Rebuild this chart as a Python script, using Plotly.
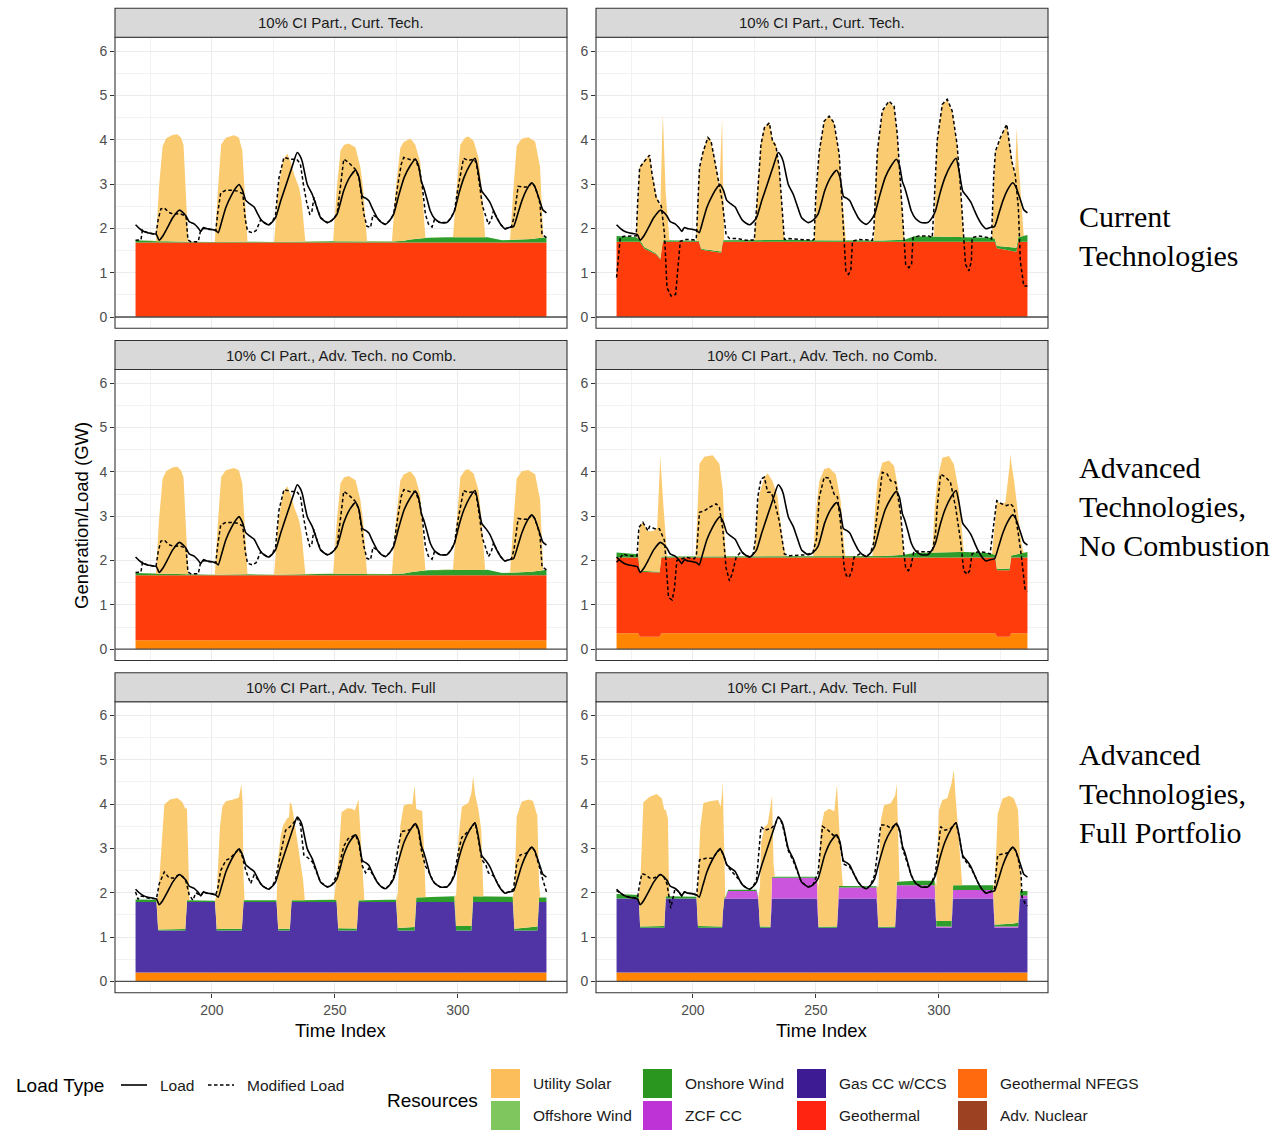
import plotly.graph_objects as go

W, H = 1284, 1132

# ---------------- text ----------------
strip_titles = ["10% CI Part., Curt. Tech.", "10% CI Part., Curt. Tech.",
                "10% CI Part., Adv. Tech. no Comb.", "10% CI Part., Adv. Tech. no Comb.",
                "10% CI Part., Adv. Tech. Full", "10% CI Part., Adv. Tech. Full"]
row_labels = ["Current<br>Technologies",
              "Advanced<br>Technologies,<br>No Combustion",
              "Advanced<br>Technologies,<br>Full Portfolio"]
resource_names = ["Utility Solar", "Offshore Wind", "Onshore Wind", "ZCF CC",
                  "Gas CC w/CCS", "Geothermal", "Geothermal NFEGS", "Adv. Nuclear"]
legend_colors = ["#FBBE5A", "#7FC65F", "#2A961F", "#BE33D6",
                 "#3D1C93", "#FF2411", "#FF6A0E", "#9C4222"]
area_colors = {"Utility Solar": "#FBCB72", "Onshore Wind": "#2D9E2B", "ZCF CC": "#CC55DD",
               "Gas CC w/CCS": "#5034A6", "Geothermal": "#FF3C0B", "Geothermal NFEGS": "#FF8503"}

# ---------------- data (hour, GW) ----------------
load_pts = [(169,2.08),(170.5,2.00),(172,1.94),(174,1.90),(176,1.88),(177.5,1.86),(178.6,1.73),(180,1.82),(182,2.02),(184.1,2.24),(186.8,2.41),(188.2,2.36),(189.5,2.28),(190.8,2.15),(192.8,2.10),(194.3,2.02),(195.5,1.93),(196.6,2.02),(198,1.99),(199.6,1.98),(201.6,1.95),(202.6,1.90),(204,2.15),(205.7,2.47),(208,2.75),(210,2.93),(211.1,2.99),(212.5,2.85),(213.8,2.63),(215.5,2.55),(217.2,2.48),(218.7,2.32),(219.9,2.20),(221.5,2.12),(223.2,2.08),(224.5,2.14),(225.9,2.24),(228,2.62),(230.7,3.07),(232.8,3.42),(234.7,3.71),(236,3.62),(236.8,3.50),(238.8,2.99),(240.8,2.77),(242.5,2.50),(244.2,2.24),(246.9,2.13),(248.8,2.18),(250.9,2.32),(253.6,2.85),(256,3.15),(258.4,3.31),(259.8,3.15),(261.2,2.72),(262.5,2.68),(263.8,2.62),(265.5,2.42),(267.2,2.24),(268.8,2.14),(270.5,2.09),(272.2,2.17),(273.9,2.32),(276,2.75),(278.2,3.15),(280.5,3.40),(282.7,3.56),(284,3.42),(285.2,3.05),(286.1,2.92),(287.5,2.65),(288.8,2.39),(290.5,2.22),(292.8,2.13),(295.5,2.13),(297,2.22),(298.6,2.39),(300.5,2.80),(302.5,3.15),(304.8,3.42),(307,3.58),(308.2,3.30),(309.7,2.84),(311.4,2.72),(313.1,2.58),(314.5,2.40),(315.8,2.24),(317.5,2.08),(319.2,1.99),(320.8,2.02),(322.6,2.04),(324.2,2.30),(326,2.62),(328,2.88),(330,3.03),(331.2,2.95),(332.3,2.78),(333.4,2.60),(334.5,2.42),(336,2.35)]

# --- left column, current technologies (left column no-combustion shares solar/wind/modified load)
geo_curr_a = [(169,1.68),(336,1.68)]
wind_curr_a = [(169,0.05),(175,0.03),(182,0.03),(190,0.02),(200,0.01),(212,0.02),(225,0.01),(240,0.03),(250,0.03),(262,0.02),(272,0.02),(278,0.04),(282,0.08),(288,0.11),(295,0.12),(305,0.11),(312,0.12),(318,0.05),(325,0.06),(330,0.08),(336,0.12)]
solar_curr_a = [(177.3,0),(178.5,1.2),(180,2.15),(181.5,2.32),(184,2.4),(186,2.42),(187.5,2.34),(188.5,2.18),(190.4,0),
                (201.2,0),(202.5,1.2),(203.8,2.2),(205.7,2.35),(209,2.4),(211,2.35),(212.4,2.05),(214.5,0),
                (225.3,0),(227,1.2),(229,1.86),(230.7,1.99),(232,1.81),(233.5,1.51),(235.5,1.21),(236.5,0.9),(238,0),
                (249.3,0),(250.8,1.2),(252.3,2.05),(253.8,2.18),(255.7,2.21),(258.4,2.12),(260.4,1.67),(261.5,1.2),(263.1,0),
                (273.2,0),(274.8,1.2),(276.6,2.1),(278,2.23),(280.7,2.28),(282.7,2.12),(284.7,1.72),(285.7,1.0),(286.8,0),
                (298,0),(299.5,1.1),(301,2.1),(303,2.26),(304.3,2.28),(306.4,2.18),(308.4,1.8),(309.8,1.0),(311.1,0),
                (321.2,0),(322.5,1.1),(323.9,2.12),(325.9,2.28),(328.6,2.3),(331.4,2.19),(333.4,1.6),(334.7,0)]
mod_curr_a = [(169,1.73),(171.2,1.74),(171.8,1.96),(173.9,1.90),(177.3,1.86),(178.2,2.20),(179.3,2.44),(180.7,2.46),(182.5,2.36),(184.5,2.32),(187,2.33),(189.5,2.28),(190.3,1.74),(191.5,1.70),(194.5,1.70),(195.3,1.92),(196.6,2.00),(198,1.99),(199.6,1.98),(201.6,1.95),(202.4,2.35),(203.6,2.80),(205.7,2.86),(208,2.86),(210.5,2.84),(212.6,2.78),(213.6,2.20),(214.5,1.94),(216.5,1.90),(218,1.95),(219.9,2.20),(221.5,2.12),(223.2,2.08),(224.5,2.14),(225.9,2.30),(227.3,3.14),(229.3,3.60),(232,3.56),(234.5,3.56),(236,3.45),(237.2,3.00),(238.5,2.60),(239.8,2.32),(240.6,2.35),(241.5,2.70),(242.5,2.50),(244.2,2.24),(246.9,2.13),(248.8,2.18),(250.9,2.32),(252.3,2.95),(253.6,3.56),(255.7,3.48),(258.4,3.33),(259.8,3.15),(261,2.65),(261.8,2.32),(263,2.05),(264.5,2.02),(265.5,2.30),(267.2,2.24),(268.8,2.14),(270.5,2.09),(272.2,2.17),(273.9,2.32),(275.5,2.95),(277,3.45),(278,3.60),(280.7,3.55),(282.7,3.56),(284.5,3.30),(285.6,2.92),(286.8,2.32),(288,2.10),(289.5,2.03),(290.5,2.20),(292.8,2.13),(295.5,2.13),(297,2.22),(298.6,2.39),(300,2.90),(302.3,3.58),(304.3,3.53),(306.4,3.56),(307.5,3.48),(309,2.90),(310,2.50),(311.1,2.32),(312.4,2.09),(313.5,2.18),(314.5,2.40),(315.8,2.24),(317.5,2.08),(319.2,1.99),(320.8,2.02),(321.8,2.04),(322.8,2.25),(324.5,2.95),(327,2.93),(328.6,2.93),(330,3.03),(331.2,2.95),(332.5,2.75),(333.4,2.55),(334.2,1.86),(336,1.79)]

# --- right column, current technologies
geo_curr_b = [(169,1.70),(178.4,1.70),(180.4,1.54),(183.1,1.47),(185.1,1.41),(186.8,1.30),(187.6,1.70),(202.5,1.70),(203.4,1.52),(210.8,1.45),(211.5,1.45),(212.2,1.70),(322.7,1.70),(323.6,1.55),(329.6,1.50),(331.5,1.47),(332.3,1.70),(336,1.70)]
wind_curr_b = [(169,0.13),(177,0.10),(178.4,0.04),(187,0.02),(188,0.03),(200,0.02),(213,0.03),(225,0.03),(238,0.04),(250,0.03),(262,0.03),(273,0.02),(286,0.04),(290,0.12),(298,0.12),(311,0.10),(321,0.10),(323.6,0.05),(330,0.08),(332.3,0.10),(336,0.15)]
solar_curr_b = [(177,0),(178.4,1.65),(180.4,1.96),(182.4,2.15),(183.5,1.73),(185.1,1.32),(186.8,1.18),(187.6,2.58),(187.8,2.85),(189,1.05),(190.5,0),
                (201.4,0),(202.7,1.69),(204.1,2.18),(206.1,2.54),(207.4,2.47),(209.5,1.89),(210.8,1.45),(211.5,2.43),(211.9,2.89),(212.4,0.78),(212.8,0),
                (225,0),(226.4,1.2),(227.7,2.17),(229.1,2.55),(231.1,2.66),(232.4,2.25),(233.8,2.17),(235.1,1.65),(236.5,0.52),(237.2,0),
                (249.3,0),(250.3,1.1),(251.4,2.02),(253.4,2.7),(255.4,2.81),(257.4,2.66),(259.5,1.95),(260.8,0.9),(262.2,0),
                (273.6,0),(274.3,1.2),(275,1.99),(277,2.9),(279.7,3.12),(281.8,3.01),(283.1,2.37),(284.5,1.17),(285.8,0),
                (298,0),(298.7,1.2),(299.3,2.15),(301.4,2.98),(303.4,3.09),(305.4,2.83),(307.4,2.07),(308.8,1.1),(310.1,0),
                (321.6,0),(323,2.06),(325,2.43),(327.6,2.75),(329.6,1.94),(331,1.66),(331.6,2.67),(332.3,1.75),(333.5,0.75),(334.5,0)]
mod_curr_b = [(169,0.89),(170.5,1.79),(172,1.82),(177,1.83),(177.6,2.6),(178.4,3.37),(180.4,3.52),(182.4,3.65),(183.5,3.2),(185.1,2.69),(187.2,2.5),(188.5,1.86),(189.5,0.66),(191.2,0.47),(193,0.51),(193.9,1.11),(194.9,1.71),(197.3,1.75),(200.7,1.74),(201.4,1.76),(202.7,3.37),(204.1,3.71),(206.1,4.05),(207.4,3.97),(209.5,3.37),(210.8,2.92),(212.0,2.6),(213.5,1.86),(214.9,1.77),(218,1.77),(221.6,1.73),(225,1.74),(226.4,2.92),(227.7,3.89),(229.1,4.27),(231.1,4.38),(232.4,3.97),(233.8,3.85),(235.1,3.37),(236.5,2.3),(237.2,1.75),(239.2,1.77),(244.6,1.75),(248.6,1.73),(249.3,1.75),(250,2.77),(251.4,3.74),(253.4,4.42),(255.4,4.53),(257.4,4.38),(259.5,3.67),(260.8,2.47),(261.5,1.71),(262.2,1.04),(263.2,0.96),(264.2,1.04),(264.9,1.71),(267.6,1.75),(273,1.73),(273.6,2.0),(275,3.74),(277,4.65),(279.7,4.87),(281.8,4.76),(283.1,4.12),(284.5,2.92),(285.8,1.71),(286.5,1.19),(287.8,1.11),(288.9,1.19),(289.5,1.79),(291.9,1.83),(295.9,1.83),(297.3,1.79),(298,2.47),(299.3,3.97),(301.4,4.8),(303.4,4.91),(305.4,4.65),(307.4,3.89),(308.8,2.92),(310.1,1.71),(310.8,1.19),(312.2,1.04),(313.2,1.26),(313.5,1.79),(316.2,1.83),(320.1,1.79),(321.4,1.76),(322.3,3.2),(323,3.74),(325,4.05),(327.6,4.35),(329.6,3.52),(331,3.22),(332.3,2.47),(333.1,1.26),(334.5,0.7),(336,0.7)]

# --- left column, advanced technologies, no combustion
nfegs_nc_a = [(169,0.20),(336,0.20)]
geo_nc_a = [(169,1.47),(336,1.47)]

# --- right column, advanced technologies, no combustion
nfegs_nc_b = [(169,0.36),(177.8,0.36),(178.5,0.28),(186.5,0.28),(187.2,0.36),(322.9,0.36),(323.6,0.28),(328.7,0.28),(329.4,0.36),(336,0.36)]
geo_nc_b = [(169,1.71),(177.8,1.71),(178.5,1.47),(186.5,1.45),(187.2,1.71),(322.9,1.71),(323.6,1.50),(328.7,1.50),(329.4,1.71),(336,1.71)]
wind_nc_b = [(169,0.11),(177.8,0.07),(178.5,0.02),(187,0.02),(200,0.02),(226,0.03),(250,0.02),(262,0.03),(275,0.03),(285,0.05),(290,0.10),(300,0.12),(311,0.12),(320,0.10),(322.9,0.06),(323.6,0.03),(329,0.04),(336,0.12)]
solar_nc_b = [(177.8,0),(178.5,1.03),(179.7,1.09),(181.8,0.9),(184,0.91),(185.5,0.99),(186.5,2.35),(186.8,2.47),(187.2,1.81),(188.1,1.11),(189.5,0.06),(189.8,0),
              (201.1,0),(202,1.2),(202.7,2.09),(204.7,2.25),(208.1,2.28),(210.8,2.09),(212.2,1.49),(213.1,0.3),(213.5,0),
              (225,0),(226,0.9),(227,1.4),(229.1,1.78),(230.4,1.87),(232.4,1.7),(234.5,1.33),(236.5,0.35),(237.8,0),
              (248.9,0),(250,1.0),(251.4,1.7),(253.4,1.97),(255.4,2.0),(258.1,1.85),(260.1,1.25),(261.5,0.2),(261.9,0),
              (273,0),(274,1.0),(275,1.68),(277,2.1),(279.7,2.15),(281.8,2.02),(283.8,1.38),(285.5,0.2),(285.8,0),
              (297.3,0),(298.3,1.0),(299.3,1.6),(301.4,2.13),(304.1,2.17),(306.1,1.98),(308.1,1.38),(309.8,0.2),(310.1,0),
              (321.6,0),(322.9,0.9),(323.6,1.54),(325,1.47),(327,1.49),(328.7,2.29),(329.1,2.42),(329.4,2.1),(330.5,1.7),(332,1.0),(333.5,0.25),(334.5,0)]
mod_nc_b = [(169,1.96),(170,2.02),(171.6,2.15),(173,2.12),(175,2.10),(177.3,2.10),(178.1,2.75),(179.7,2.86),(181.8,2.67),(182.4,2.77),(184.4,2.72),(186.4,2.72),(188.5,2.45),(189.2,1.77),(190.1,1.17),(191.6,1.11),(192.5,1.35),(193.5,2.0),(195.3,2.04),(197.3,2.07),(200.7,2.04),(201.5,2.15),(202.7,3.09),(204.7,3.12),(206.7,3.2),(209.5,3.28),(210.8,3.2),(212.2,2.7),(213.5,1.84),(214.9,1.54),(216,1.70),(217.6,2.07),(219.6,2.2),(221.5,2.12),(223.2,2.08),(224.5,2.14),(225.5,2.5),(226.4,3.43),(227.7,3.84),(229.1,3.88),(230.4,3.54),(231.8,3.54),(233.1,3.35),(235.1,2.9),(237.2,2.15),(239.2,2.11),(243,2.12),(246,2.13),(248.8,2.18),(250.3,2.5),(251.4,3.43),(253.4,3.88),(255.4,3.86),(257.4,3.5),(258.8,3.43),(260.1,2.82),(261.5,1.84),(262.4,1.66),(263.5,1.62),(264.6,1.77),(265.5,2.07),(268.2,2.16),(270.5,2.09),(272.2,2.17),(273.5,2.4),(275.7,3.43),(277,3.99),(279,3.95),(280.4,3.8),(282.4,3.77),(284.5,3.05),(285.8,2.15),(286.5,1.84),(287.6,1.77),(288.5,1.84),(289.9,2.22),(293,2.2),(297.3,2.2),(298.6,2.6),(299.3,3.2),(300.7,3.95),(302.7,3.88),(304.7,3.77),(306.8,3.2),(308.8,2.45),(310.1,1.77),(311.5,1.69),(312.5,1.77),(313.5,2.15),(316,2.2),(319.2,2.18),(320.8,2.15),(321.8,2.6),(323.5,3.35),(325.5,3.28),(327.5,3.24),(329.1,3.28),(330.5,3.2),(332.3,2.6),(333.6,2.07),(335,1.36),(336,1.3)]

# --- left column, advanced technologies, full portfolio
nfegs_full_a = [(169,0.20),(336,0.20)]
gas_full_a = [(169,1.59),(177.5,1.59),(178.2,0.95),(189.2,0.95),(189.9,1.59),(201.3,1.59),(202.0,0.95),(212.2,0.95),(212.9,1.59),(226.3,1.59),(227.0,0.95),(231.7,0.95),(232.4,1.59),(250.7,1.59),(251.4,0.95),(258.9,0.95),(259.6,1.59),(274.9,1.59),(275.6,0.95),(282.4,0.95),(283.1,1.59),(298.6,1.59),(299.3,0.95),(305.5,0.95),(306.2,1.59),(322.3,1.59),(323.0,0.95),(332.3,0.95),(333.0,1.59),(336,1.59)]
wind_full_a = [(169,0.06),(177.5,0.05),(178.2,0.02),(186,0.03),(189.2,0.03),(190,0.04),(201,0.03),(212.9,0.04),(225,0.04),(240,0.04),(250,0.05),(262,0.04),(272,0.05),(282,0.06),(283.1,0.10),(298.6,0.13),(299.3,0.10),(305.5,0.10),(306.2,0.13),(322.3,0.12),(323,0.04),(330,0.07),(332.3,0.09),(333,0.10),(336,0.10)]
solar_full_a = [(177.5,0),(178.2,0.75),(179.5,1.95),(180.7,2.82),(183,2.93),(186,2.96),(188,2.87),(189.2,2.72),(189.9,2.07),(190.4,1.0),(190.9,0),
                (201.3,0),(202.0,0.8),(203.3,2.3),(204.3,2.77),(205.7,2.88),(209,2.92),(211,2.96),(212.0,3.26),(212.5,2.6),(212.9,0.5),(213.3,0),
                (226.3,0),(227.0,1.6),(228,2.1),(229,2.33),(230.5,2.48),(231.4,2.52),(231.7,2.85),(232.4,2.17),(233.1,1.95),(235.1,1.2),(237.1,0.45),(237.8,0),
                (249.6,0),(250.7,0.5),(251.4,1.5),(252.7,2.62),(255,2.71),(257,2.70),(258.1,2.66),(258.9,2.8),(259.6,2.27),(260.1,1.8),(261.4,0.45),(262.0,0),
                (274.9,0),(275.6,0.8),(276.6,2.3),(278,2.76),(280,2.8),(281.5,2.78),(282.4,3.2),(283.1,2.0),(285.5,1.95),(286.3,1.0),(286.9,0),
                (298.6,0),(299.3,0.7),(300.3,2.0),(301.6,2.69),(304.3,2.78),(305.5,3.0),(306.2,2.7),(307,2.3),(308.4,1.95),(309.5,1.5),(310.4,0),
                (322.3,0),(323.0,0.9),(323.9,2.52),(325.9,2.85),(328.6,2.89),(330.5,2.85),(332.0,2.55),(332.3,2.5),(333.0,0.3),(333.5,0)]
mod_full_a = [(169,2.02),(170,1.85),(171,1.92),(172,1.92),(174,1.88),(176,1.87),(177.5,1.86),(178.6,2.2),(180.7,2.47),(182.7,2.33),(184.5,2.33),(186.8,2.41),(188.2,2.36),(189.5,2.26),(190.8,1.95),(192.3,1.83),(193.5,2.0),(195.5,1.93),(196.6,2.02),(198,1.99),(199.6,1.98),(201.6,1.95),(202.4,2.1),(203.6,2.5),(205.7,2.73),(207.5,2.78),(210,2.93),(211.1,2.99),(212.5,2.8),(213.8,2.5),(215.8,2.21),(217.2,2.4),(218.7,2.3),(219.9,2.20),(221.5,2.12),(223.2,2.08),(224.5,2.14),(225.9,2.3),(228,2.9),(230,3.41),(232,3.5),(234.7,3.68),(236,3.55),(237.4,2.85),(238.8,2.8),(240.8,2.7),(242.5,2.48),(244.2,2.24),(246.9,2.13),(248.8,2.18),(250.9,2.40),(253.6,3.05),(255.4,3.22),(258.4,3.31),(259.8,3.1),(261.2,2.6),(262.5,2.45),(263.8,2.55),(265.5,2.40),(267.2,2.24),(268.8,2.14),(270.5,2.09),(272.2,2.17),(273.9,2.35),(275.5,2.95),(277,3.38),(280.5,3.42),(282.7,3.56),(284,3.4),(285.2,2.95),(286.8,2.6),(288,2.5),(288.8,2.39),(290.5,2.22),(292.8,2.13),(295.5,2.13),(297,2.22),(298.6,2.42),(300.3,2.95),(301.6,3.25),(304.8,3.42),(307,3.58),(308.2,3.25),(309.7,2.75),(311.4,2.62),(312.4,2.45),(314.5,2.38),(315.8,2.24),(317.5,2.08),(319.2,1.99),(320.8,2.02),(322.6,2.08),(323.9,2.65),(325.3,2.85),(328,2.9),(330,3.03),(331.2,2.95),(332.3,2.75),(333.4,2.55),(334.5,2.3),(336,2.02)]

# --- right column, advanced technologies, full portfolio
nfegs_full_b = [(169,0.20),(336,0.20)]
gas_full_b = [(169,1.67),(178.0,1.67),(178.6,1.01),(188.4,1.01),(189.0,1.67),(201.5,1.67),(202.1,1.01),(211.9,1.01),(212.5,1.67),(226.6,1.67),(227.3,1.01),(231.5,1.01),(232.2,1.67),(250.4,1.67),(251.1,1.01),(258.6,1.01),(259.3,1.67),(274.7,1.67),(275.4,1.01),(282.2,1.01),(282.9,1.67),(298.3,1.67),(299.0,1.01),(305.1,1.01),(305.8,1.67),(322.0,1.67),(322.7,1.01),(332.2,1.01),(332.9,1.67),(336,1.67)]
zcf_full_b = [(169,0),(213.2,0),(214.4,0.17),(225.9,0.17),(226.6,0),(231.5,0),(232.2,0.47),(250.4,0.47),(251.1,0),(258.6,0),(259.3,0.25),(274.7,0.25),(275.4,0),(282.2,0),(282.9,0.30),(298.3,0.30),(299.0,0.03),(305.1,0.03),(305.8,0.19),(322.0,0.19),(322.7,0.03),(332.2,0.03),(332.9,0.07),(336,0.07)]
wind_full_b = [(169,0.10),(178.0,0.08),(178.6,0.03),(188.4,0.04),(189.0,0.05),(200,0.04),(213,0.03),(226,0.03),(233,0.02),(250,0.02),(259,0.03),(274,0.03),(275.4,0.02),(282.2,0.03),(282.9,0.08),(290,0.10),(298.3,0.10),(299,0.12),(305.1,0.12),(305.8,0.11),(322,0.11),(322.7,0.04),(330,0.06),(332.2,0.09),(332.9,0.10),(336,0.10)]
solar_full_b = [(178.0,0),(178.6,0.9),(179.9,2.8),(182.5,2.92),(185.4,2.98),(187.4,2.88),(188.1,2.65),(188.4,2.62),(189.0,1.95),(189.9,1.75),(190.3,0.3),(190.6,0),
                (201.5,0),(202.1,0.9),(203,2.2),(204.3,2.78),(207,2.82),(210.3,2.85),(211.3,2.7),(211.9,3.0),(212.2,2.95),(212.5,1.7),(212.8,1.0),(213.2,0),
                (226.6,0),(227.3,0.9),(227.7,1.87),(229.1,2.25),(230.4,2.32),(231.5,2.69),(232.2,1.84),(232.8,0.3),(233.3,0),
                (250.4,0),(251.1,0.9),(252,2.2),(253.4,2.59),(255.4,2.66),(257.5,2.6),(258.6,3.2),(259.3,1.5),(260.3,0.5),(261,0),
                (274.7,0),(275.4,0.9),(276.4,2.4),(277.7,2.74),(280.4,2.78),(282.2,2.95),(282.9,2.2),(283.5,1.0),(284,0),
                (298.3,0),(299.0,0.8),(300,2.5),(301.4,2.73),(303.4,2.77),(305.1,3.1),(305.8,2.5),(306.1,2.6),(306.8,2.0),(307.8,1.2),(309,0.3),(309.5,0),
                (322.0,0),(322.7,0.9),(323.9,2.5),(325.9,2.84),(328.6,2.89),(330.5,2.82),(332.2,2.54),(332.9,0.8),(333.5,0)]
mod_full_b = [(169,2.05),(170.5,2.0),(172,1.94),(174,1.9),(176,1.88),(177.5,1.88),(178.4,2.2),(179.3,2.43),(181,2.4),(182.4,2.33),(184.1,2.33),(186.8,2.41),(188.2,2.36),(189.5,2.2),(190.2,1.95),(191,1.65),(191.8,1.85),(192.8,2.1),(194.3,2.02),(195.5,1.93),(196.6,2.02),(198,1.99),(199.6,1.98),(201.6,1.95),(202.7,2.74),(205.4,2.78),(208,2.78),(210,2.93),(211.1,2.99),(212.5,2.85),(213.8,2.63),(215.5,2.5),(217.2,2.4),(218.7,2.3),(219.9,2.2),(221.5,2.12),(223.2,2.08),(224.5,2.14),(225.9,2.3),(227.7,3.49),(229.1,3.41),(231.8,3.45),(233.5,3.55),(234.7,3.71),(236,3.6),(236.8,3.45),(238.8,2.95),(240.8,2.72),(242.5,2.48),(244.2,2.24),(246.9,2.13),(248.8,2.18),(250.9,2.45),(252.7,3.5),(255,3.41),(257,3.3),(258.4,3.31),(259.8,3.1),(261.2,2.65),(262.5,2.62),(263.8,2.58),(265.5,2.42),(267.2,2.24),(268.8,2.14),(270.5,2.09),(272.2,2.17),(273.9,2.4),(276.4,3.53),(278.4,3.53),(280.5,3.45),(282.7,3.56),(284,3.4),(285.2,3.0),(286.1,2.85),(287.5,2.6),(288.8,2.39),(290.5,2.22),(292.8,2.13),(295.5,2.13),(297,2.22),(298.6,2.45),(300.7,3.49),(302.5,3.41),(304.8,3.45),(307,3.58),(308.2,3.28),(309.7,2.8),(311.4,2.68),(313.1,2.55),(314.5,2.4),(315.8,2.24),(317.5,2.08),(319.2,1.99),(320.8,2.02),(322.6,2.1),(323.9,2.85),(326,2.88),(328,2.9),(330,3.03),(331.2,2.95),(332.3,2.75),(333.4,2.4),(333.8,1.9),(335,1.76),(336,1.7)]

# ---------------- panel assembly ----------------
panels = [
    dict(row=0, col=0, layers=[("Geothermal", geo_curr_a), ("Onshore Wind", wind_curr_a), ("Utility Solar", solar_curr_a)], mod=mod_curr_a),
    dict(row=0, col=1, layers=[("Geothermal", geo_curr_b), ("Onshore Wind", wind_curr_b), ("Utility Solar", solar_curr_b)], mod=mod_curr_b),
    dict(row=1, col=0, layers=[("Geothermal NFEGS", nfegs_nc_a), ("Geothermal", geo_nc_a), ("Onshore Wind", wind_curr_a), ("Utility Solar", solar_curr_a)], mod=mod_curr_a),
    dict(row=1, col=1, layers=[("Geothermal NFEGS", nfegs_nc_b), ("Geothermal", geo_nc_b), ("Onshore Wind", wind_nc_b), ("Utility Solar", solar_nc_b)], mod=mod_nc_b),
    dict(row=2, col=0, layers=[("Geothermal NFEGS", nfegs_full_a), ("Gas CC w/CCS", gas_full_a), ("Onshore Wind", wind_full_a), ("Utility Solar", solar_full_a)], mod=mod_full_a),
    dict(row=2, col=1, layers=[("Geothermal NFEGS", nfegs_full_b), ("Gas CC w/CCS", gas_full_b), ("ZCF CC", zcf_full_b), ("Onshore Wind", wind_full_b), ("Utility Solar", solar_full_b)], mod=mod_full_b),
]

col_px = [(115, 567), (596, 1048)]
row_px = [(37.3, 328.3), (369.5, 660.5), (701.7, 992.7)]
STRIP = 29
FONT = "Liberation Sans, Arial, sans-serif"


def unzip(pts):
    return [p[0] for p in pts], [p[1] for p in pts]


fig = go.Figure()
shapes, annotations = [], []
layout_axes = {}

for i, p in enumerate(panels, start=1):
    xn = "x" if i == 1 else f"x{i}"
    yn = "y" if i == 1 else f"y{i}"
    xl, xr = col_px[p["col"]]
    yt, yb = row_px[p["row"]]
    bottom = p["row"] == 2

    for name, pts in p["layers"]:
        xs, ys = unzip(pts)
        fig.add_trace(go.Scatter(x=xs, y=ys, xaxis=xn, yaxis=yn, mode="lines",
                                 stackgroup=f"g{i}", stackgaps="interpolate",
                                 line=dict(width=0, color=area_colors[name]),
                                 fillcolor=area_colors[name], name=name, showlegend=False,
                                 hoverinfo="skip"))
    lx, ly = unzip(load_pts)
    fig.add_trace(go.Scatter(x=lx, y=ly, xaxis=xn, yaxis=yn, mode="lines",
                             line=dict(color="black", width=1.6, shape="spline", smoothing=0.5),
                             name="Load", showlegend=False))
    mx, my = unzip(p["mod"])
    fig.add_trace(go.Scatter(x=mx, y=my, xaxis=xn, yaxis=yn, mode="lines",
                             line=dict(color="black", width=1.5, dash="3.5px,2.5px"),
                             name="Modified Load", showlegend=False))

    layout_axes["xaxis" if i == 1 else f"xaxis{i}"] = dict(
        domain=[xl / W, xr / W], range=[160.65, 344.35], anchor=yn,
        tick0=200, dtick=50, showgrid=True, gridcolor="#EBEBEB", gridwidth=1.1,
        minor=dict(dtick=25, tick0=175, showgrid=True, gridcolor="#F2F2F2", gridwidth=0.6),
        zeroline=False, showline=False,
        showticklabels=bottom, ticks="outside" if bottom else "", ticklen=4,
        tickcolor="#333333", tickwidth=1,
        tickfont=dict(family=FONT, size=14, color="#4D4D4D"))
    layout_axes["yaxis" if i == 1 else f"yaxis{i}"] = dict(
        domain=[1 - yb / H, 1 - yt / H], range=[-0.255, 6.31], anchor=xn,
        tick0=0, dtick=1, showgrid=True, gridcolor="#EBEBEB", gridwidth=1.1,
        minor=dict(dtick=0.5, tick0=0, showgrid=True, gridcolor="#F2F2F2", gridwidth=0.6),
        zeroline=False, showline=False, ticks="outside", ticklen=4,
        tickcolor="#333333", tickwidth=1,
        tickfont=dict(family=FONT, size=14, color="#4D4D4D"))

    # zero reference line
    shapes.append(dict(type="line", xref=f"{xn} domain", yref=yn, x0=0, x1=1, y0=0, y1=0,
                       line=dict(color="#4D4D4D", width=1.3), layer="above"))
    # panel border
    shapes.append(dict(type="rect", xref="paper", yref="paper",
                       x0=xl / W, x1=xr / W, y0=1 - yb / H, y1=1 - yt / H,
                       line=dict(color="#333333", width=1.1), layer="above"))
    # strip
    shapes.append(dict(type="rect", xref="paper", yref="paper",
                       x0=xl / W, x1=xr / W, y0=1 - yt / H, y1=1 - (yt - STRIP) / H,
                       fillcolor="#D9D9D9", line=dict(color="#333333", width=1.1), layer="above"))
    annotations.append(dict(text=strip_titles[i - 1], xref="paper", yref="paper",
                            x=(xl + xr) / 2 / W, y=1 - (yt - STRIP / 2) / H,
                            showarrow=False, xanchor="center", yanchor="middle",
                            font=dict(family=FONT, size=15, color="#1A1A1A")))

# row labels
row_label_y = [236, 506, 793]
for txt, yc in zip(row_labels, row_label_y):
    annotations.append(dict(text=txt, xref="paper", yref="paper", x=1077 / W, y=1 - yc / H,
                            xanchor="left", yanchor="middle", align="left", showarrow=False,
                            font=dict(family="Liberation Serif, Times New Roman, serif", size=30, color="black")))

# axis titles
for xc in [341, 822]:
    annotations.append(dict(text="Time Index", xref="paper", yref="paper", x=xc / W, y=1 - 1030 / H,
                            showarrow=False, xanchor="center", yanchor="middle",
                            font=dict(family=FONT, size=18.5, color="black")))
annotations.append(dict(text="Generation/Load (GW)", xref="paper", yref="paper", x=81 / W, y=1 - 515 / H,
                        showarrow=False, textangle=-90, xanchor="center", yanchor="middle",
                        font=dict(family=FONT, size=18.5, color="black")))

# ---------------- legend (drawn manually) ----------------
def px(x):
    return x / W


def py(y):
    return 1 - y / H


annotations.append(dict(text="Load Type", xref="paper", yref="paper", x=px(14), y=py(1085),
                        xanchor="left", yanchor="middle", showarrow=False,
                        font=dict(family=FONT, size=19, color="black")))
shapes.append(dict(type="line", xref="paper", yref="paper", x0=px(121), x1=px(147), y0=py(1085), y1=py(1085),
                   line=dict(color="black", width=1.6)))
annotations.append(dict(text="Load", xref="paper", yref="paper", x=px(158), y=py(1085),
                        xanchor="left", yanchor="middle", showarrow=False,
                        font=dict(family=FONT, size=15.5, color="#1A1A1A")))
shapes.append(dict(type="line", xref="paper", yref="paper", x0=px(208), x1=px(234), y0=py(1085), y1=py(1085),
                   line=dict(color="black", width=1.5, dash="3.5px,2.5px")))
annotations.append(dict(text="Modified Load", xref="paper", yref="paper", x=px(245), y=py(1085),
                        xanchor="left", yanchor="middle", showarrow=False,
                        font=dict(family=FONT, size=15.5, color="#1A1A1A")))
annotations.append(dict(text="Resources", xref="paper", yref="paper", x=px(385), y=py(1100),
                        xanchor="left", yanchor="middle", showarrow=False,
                        font=dict(family=FONT, size=19, color="black")))
sw_cols = [491, 643, 797, 958]
sw_rows = [1069, 1101]
for k, (name, colr) in enumerate(zip(resource_names, legend_colors)):
    cx = sw_cols[k // 2]
    ry = sw_rows[k % 2]
    shapes.append(dict(type="rect", xref="paper", yref="paper", x0=px(cx), x1=px(cx + 29),
                       y0=py(ry + 29), y1=py(ry), fillcolor=colr, line=dict(width=0)))
    annotations.append(dict(text=name, xref="paper", yref="paper", x=px(cx + 40), y=py(ry + 14.5),
                            xanchor="left", yanchor="middle", showarrow=False,
                            font=dict(family=FONT, size=15.5, color="#1A1A1A")))

fig.update_layout(width=W, height=H, autosize=False, margin=dict(l=0, r=0, t=0, b=0),
                  paper_bgcolor="white", plot_bgcolor="white", showlegend=False,
                  shapes=shapes, annotations=annotations, **layout_axes)

fig.write_html("out.html", config={"displayModeBar": False},
               post_script="document.body.style.margin='0';document.body.style.overflow='hidden';")
